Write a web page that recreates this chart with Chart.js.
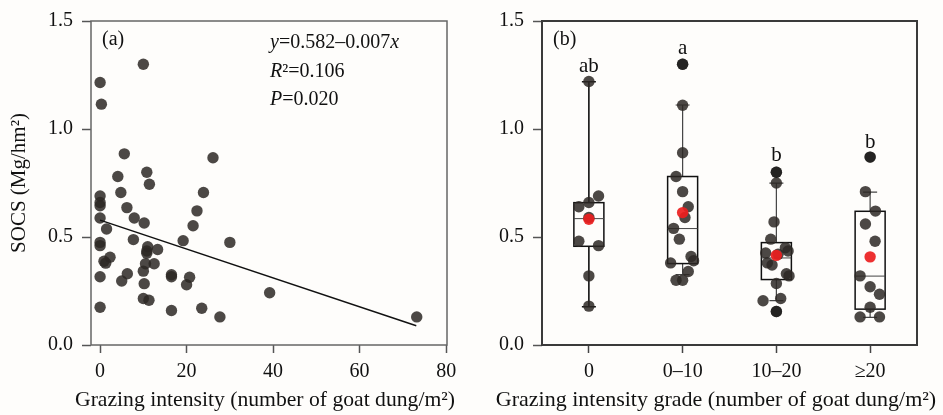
<!DOCTYPE html>
<html>
<head>
<meta charset="utf-8">
<script src="https://cdn.jsdelivr.net/npm/chart.js@4.4.1/dist/chart.umd.min.js"></script>
<style>
  html, body { margin: 0; padding: 0; background: #fefdfb; }
  #wrapA { position: absolute; left: 0; top: 0; width: 470px; height: 415px; }
  #wrapB { position: absolute; left: 470px; top: 0; width: 473px; height: 415px; }
</style>
</head>
<body>
<div id="wrapA"><canvas id="scatterChart" width="470" height="415"></canvas></div>
<div id="wrapB"><canvas id="boxChart" width="473" height="415"></canvas></div>
<script>
// ---- data: panel (a) ----
const grazing = [10.0, 0.0, 0.3, 5.6, 26.1, 4.1, 10.8, 11.4, 0.0, 0.0, 0.0, 4.8, 23.9, 6.2, 22.4, 0.0, 7.9,
  10.2, 21.5, 1.5, 7.7, 19.2, 30.0, 0.0, 0.0, 11.0, 10.8, 10.8, 13.3, 2.3, 0.9, 1.3, 10.5, 12.5, 10.0,
  6.3, 16.5, 16.5, 20.7, 0.0, 5.0, 20.0, 10.2, 39.2, 10.0, 11.3, 0.0, 16.5, 23.5, 27.7, 73.2];
const socs = [1.30, 1.215, 1.115, 0.885, 0.867, 0.78, 0.80, 0.744, 0.69, 0.66, 0.645, 0.706, 0.706, 0.636, 0.621, 0.588, 0.588,
  0.565, 0.552, 0.537, 0.488, 0.483, 0.475, 0.475, 0.46, 0.455, 0.435, 0.425, 0.442, 0.406, 0.388, 0.379, 0.376, 0.376, 0.342,
  0.33, 0.325, 0.316, 0.314, 0.316, 0.296, 0.279, 0.284, 0.242, 0.215, 0.207, 0.175, 0.16, 0.17, 0.13, 0.13];
const fitX = [0, 73.1];
const fitY = [0.578, 0.089];
const xTicksA = [0, 20, 40, 60, 80];
const yTicks = [0, 0.5, 1.0, 1.5];

// ---- data: panel (b) ----
const grades = ['0', '0–10', '10–20', '≥20'];
const gradeValues = [
  [1.22, 0.69, 0.66, 0.64, 0.59, 0.48, 0.46, 0.32, 0.18],
  [1.30, 1.11, 0.89, 0.78, 0.71, 0.64, 0.59, 0.54, 0.49, 0.41, 0.39, 0.38, 0.34, 0.30, 0.30],
  [0.80, 0.75, 0.57, 0.49, 0.45, 0.435, 0.426, 0.42, 0.38, 0.37, 0.33, 0.32, 0.285, 0.205, 0.215, 0.155],
  [0.87, 0.71, 0.62, 0.56, 0.48, 0.32, 0.27, 0.235, 0.175, 0.13, 0.13]
];
const gradeJitter = [
  [0, 0.103, 0, -0.107, 0, -0.107, 0.103, 0, 0],
  [0, 0, 0, -0.07, 0, 0.06, 0.025, -0.096, -0.035, 0.09, 0.117, -0.128, 0.06, -0.07, 0],
  [0, 0, -0.025, -0.06, 0.096, 0.125, -0.114, 0.018, -0.096, -0.046, 0.107, 0.135, 0, -0.142, 0.046, 0],
  [0, -0.05, 0.057, -0.05, 0.053, -0.107, 0, 0.1, 0, -0.107, 0.1]
];
const q1 = [0.457, 0.377, 0.303, 0.166];
const median = [0.585, 0.539, 0.403, 0.319];
const q3 = [0.659, 0.780, 0.474, 0.619];
const whiskerLow = [0.177, 0.326, 0.205, 0.128];
const whiskerHigh = [1.219, 1.111, 0.749, 0.708];
const means = [0.582, 0.613, 0.415, 0.408];
const outlierGrade = [1, 2, 2, 3];
const outlierValue = [1.30, 0.80, 0.155, 0.87];
const letters = ['ab', 'a', 'b', 'b'];
const letterY = [1.29, 1.373, 0.877, 0.939];

const serif = "'Liberation Serif', 'Times New Roman', serif";
const tickFont = { family: serif, size: 20 };
const titleFont = { family: serif, size: 21 };
const dotColor = 'rgba(45, 40, 36, 0.85)';

Chart.defaults.color = '#111';
Chart.defaults.animation = false;

// frame around the plot area
const framePlugin = {
  id: 'frame',
  afterDatasetsDraw(chart, args, opts) {
    const a = chart.chartArea, ctx = chart.ctx;
    ctx.save();
    ctx.strokeStyle = opts.color;
    ctx.lineWidth = opts.width;
    ctx.strokeRect(a.left, a.top, a.right - a.left, a.bottom - a.top);
    ctx.restore();
  }
};

// x-axis title, allowed to run a little wider than the plot area
const xTitlePlugin = {
  id: 'xTitle',
  afterDraw(chart, args, opts) {
    const ctx = chart.ctx;
    ctx.save();
    ctx.fillStyle = '#111';
    ctx.font = '22px ' + serif;
    ctx.textAlign = 'center';
    ctx.textBaseline = 'middle';
    ctx.fillText(opts.text, opts.x, 400, opts.maxWidth);
    ctx.restore();
  }
};

function drawRich(ctx, x, y, parts) {
  parts.forEach(([text, italic]) => {
    ctx.font = (italic ? 'italic ' : '') + '20px ' + serif;
    ctx.fillText(text, x, y);
    x += ctx.measureText(text).width;
  });
}

const notesA = {
  id: 'notesA',
  afterDraw(chart) {
    const ctx = chart.ctx;
    ctx.save();
    ctx.fillStyle = '#111';
    ctx.textBaseline = 'middle';
    ctx.textAlign = 'left';
    drawRich(ctx, 102, 40, [['(a)', false]]);
    drawRich(ctx, 270, 43, [['y', true], ['=0.582–0.007', false], ['x', true]]);
    drawRich(ctx, 270, 72, [['R', true], ['²=0.106', false]]);
    drawRich(ctx, 270, 100, [['P', true], ['=0.020', false]]);
    ctx.restore();
  }
};

const yScale = (title) => ({
  min: 0,
  max: 1.5,
  afterBuildTicks: s => { s.ticks = yTicks.map(v => ({ value: v })); },
  afterFit: s => { s.width = title ? 91 : 72; },
  ticks: { font: tickFont, color: '#111', padding: 9, callback: v => v.toFixed(1) },
  grid: { drawOnChartArea: false, tickLength: 9, tickColor: '#555', tickWidth: 1.5 },
  border: { display: false },
  title: {
    display: !!title,
    text: title || '',
    font: titleFont,
    color: '#111',
    padding: { top: 7, bottom: 0 }
  }
});

// Panel (a)
const scatterCtx = document.getElementById('scatterChart').getContext('2d');
const scatterChart = new Chart(scatterCtx, {
  type: 'scatter',
  data: {
    datasets: [{
      type: 'line',
      data: fitX.map((x, i) => ({ x: x, y: fitY[i] })),
      borderColor: '#111',
      borderWidth: 1.5,
      pointRadius: 0,
      order: 0
    }, {
      data: grazing.map((x, i) => ({ x: x, y: socs[i] })),
      backgroundColor: dotColor,
      borderWidth: 0,
      pointRadius: 5.7,
      order: 1
    }]
  },
  options: {
    responsive: false,
    layout: { padding: { top: 20, right: 23, bottom: 0, left: 0 } },
    plugins: {
      legend: { display: false },
      tooltip: { enabled: false },
      frame: { color: '#666', width: 1.5 },
      xTitle: { text: 'Grazing intensity (number of goat dung/m²)', x: 265, maxWidth: 380 }
    },
    scales: {
      x: {
        type: 'linear',
        min: -2.1,
        max: 80.2,
        afterBuildTicks: s => { s.ticks = xTicksA.map(v => ({ value: v })); },
        afterFit: s => { s.height = 70; },
        ticks: { font: tickFont, color: '#111', padding: 7, maxRotation: 0 },
        grid: { drawOnChartArea: false, tickLength: 8, tickColor: '#555', tickWidth: 1.5 },
        border: { display: false }
      },
      y: yScale('SOCS (Mg/hm²)')
    }
  },
  plugins: [framePlugin, notesA, xTitlePlugin]
});

// Panel (b): box plot parts drawn through the chart scales
const boxPlugin = {
  id: 'boxes',
  beforeDatasetsDraw(chart) {
    const ctx = chart.ctx, xs = chart.scales.x, ys = chart.scales.y;
    const half = 15, cap = 7;
    ctx.save();
    grades.forEach((g, i) => {
      const cx = xs.getPixelForValue(i);
      // whisker
      ctx.strokeStyle = i === 0 ? '#111' : '#444';
      ctx.lineWidth = i === 0 ? 1.6 : 1.2;
      ctx.beginPath();
      ctx.moveTo(cx, ys.getPixelForValue(whiskerLow[i]));
      ctx.lineTo(cx, ys.getPixelForValue(whiskerHigh[i]));
      ctx.moveTo(cx - cap, ys.getPixelForValue(whiskerLow[i]));
      ctx.lineTo(cx + cap, ys.getPixelForValue(whiskerLow[i]));
      ctx.moveTo(cx - cap, ys.getPixelForValue(whiskerHigh[i]));
      ctx.lineTo(cx + cap, ys.getPixelForValue(whiskerHigh[i]));
      ctx.stroke();
      // box
      const top = ys.getPixelForValue(q3[i]), bot = ys.getPixelForValue(q1[i]);
      ctx.fillStyle = '#fefdfb';
      ctx.fillRect(cx - half, top, half * 2, bot - top);
      ctx.strokeStyle = '#111';
      ctx.lineWidth = 1.5;
      ctx.strokeRect(cx - half, top, half * 2, bot - top);
      ctx.lineWidth = 1;
      ctx.strokeStyle = '#444';
      ctx.beginPath();
      ctx.moveTo(cx - half, ys.getPixelForValue(median[i]));
      ctx.lineTo(cx + half, ys.getPixelForValue(median[i]));
      ctx.stroke();
    });
    ctx.restore();
  },
  afterDatasetsDraw(chart) {
    const ctx = chart.ctx, xs = chart.scales.x, ys = chart.scales.y;
    ctx.save();
    ctx.fillStyle = '#111';
    ctx.font = '21px ' + serif;
    ctx.textAlign = 'center';
    ctx.textBaseline = 'middle';
    letters.forEach((t, i) => ctx.fillText(t, xs.getPixelForValue(i), ys.getPixelForValue(letterY[i])));
    ctx.textAlign = 'left';
    ctx.font = '20px ' + serif;
    ctx.fillText('(b)', 553 - 470, 40);
    ctx.restore();
  }
};

const jitterPoints = [];
gradeValues.forEach((vals, i) => {
  vals.forEach((v, k) => jitterPoints.push({ x: i + gradeJitter[i][k], y: v }));
});

const boxCtx = document.getElementById('boxChart').getContext('2d');
const boxChart = new Chart(boxCtx, {
  type: 'scatter',
  data: {
    datasets: [{
      data: means.map((m, i) => ({ x: i, y: m })),
      backgroundColor: 'rgba(236, 30, 30, 0.92)',
      borderWidth: 0,
      pointRadius: 5.7,
      order: 0
    }, {
      data: outlierValue.map((v, i) => ({ x: outlierGrade[i], y: v })),
      backgroundColor: 'rgba(20, 20, 20, 0.7)',
      borderWidth: 0,
      pointRadius: 5.7,
      order: 1
    }, {
      data: jitterPoints,
      backgroundColor: dotColor,
      borderWidth: 0,
      pointRadius: 5.7,
      order: 2
    }]
  },
  options: {
    responsive: false,
    layout: { padding: { top: 20, right: 26, bottom: 0, left: 0 } },
    plugins: {
      legend: { display: false },
      tooltip: { enabled: false },
      frame: { color: '#3a3a3a', width: 2 },
      xTitle: { text: 'Grazing intensity grade (number of goat dung/m²)', x: 716 - 470, maxWidth: 443 }
    },
    scales: {
      x: {
        type: 'linear',
        min: -0.5,
        max: 3.5,
        afterBuildTicks: s => { s.ticks = grades.map((g, i) => ({ value: i })); },
        afterFit: s => { s.height = 70; },
        ticks: { font: tickFont, color: '#111', padding: 7, maxRotation: 0, callback: v => grades[v] },
        grid: { drawOnChartArea: false, tickLength: 8, tickColor: '#444', tickWidth: 1.5 },
        border: { display: false }
      },
      y: yScale(null)
    }
  },
  plugins: [framePlugin, boxPlugin, xTitlePlugin]
});
</script>
</body>
</html>
